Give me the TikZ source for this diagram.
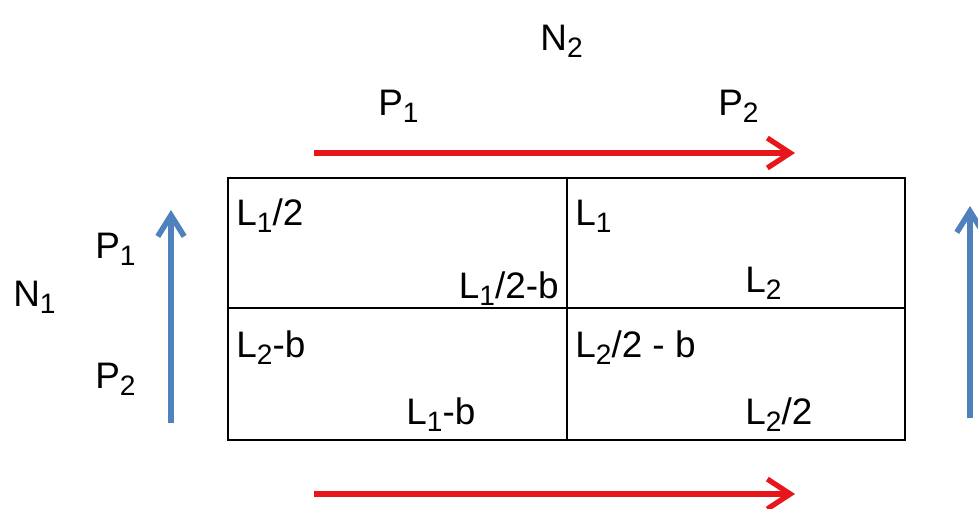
\documentclass[tikz,border=0pt]{standalone}
\usepackage{fontspec}
\setmainfont{Liberation Sans}
\usepackage{xcolor}
\usetikzlibrary{arrows.meta}
\definecolor{arrred}{RGB}{230,22,26}
\definecolor{arrblue}{RGB}{79,129,189}
\newcommand{\lo}[1]{\raisebox{-4.5pt}{\fontsize{16}{17}\selectfont #1}}

\begin{document}
\begin{tikzpicture}[x=0.02cm, y=-0.02cm,
    lbl/.style={anchor=base west, inner sep=0pt, font=\fontsize{21}{23}\selectfont},
    redarr/.style={arrred, line width=3pt, -{Straight Barb[length=13pt, width=17pt]}},
    bluearr/.style={arrblue, line width=3.2pt, -{Straight Barb[length=12pt, width=15pt]}}]

    \useasboundingbox (0, 0) rectangle (978, 508);

    % grid
    \draw[line width=0.9pt] (228, 178) rectangle (905, 440);
    \draw[line width=0.9pt] (567, 178) -- (567, 440);
    \draw[line width=0.9pt] (228, 308) -- (905, 308);

    % arrows
    \coordinate (topS) at (314, 153);
    \coordinate (topE) at (795, 153);
    \coordinate (botS) at (314, 494);
    \coordinate (botE) at (795, 494);
    \coordinate (leftS) at (171, 423);
    \coordinate (leftE) at (171, 210);
    \coordinate (rightS) at (970, 418);
    \coordinate (rightE) at (970, 206);
    \draw[redarr] (topS) -- (topE);
    \draw[redarr] (botS) -- (botE);
    \draw[bluearr] (leftS) -- (leftE);
    \draw[bluearr] (rightS) -- (rightE);

    % outer labels
    \node[lbl] (n2) at (540, 50) {N\lo{2}};
    \node[lbl] (p1top) at (378, 115) {P\lo{1}};
    \node[lbl] (p2top) at (718, 115) {P\lo{2}};
    \node[lbl] (n1) at (13, 306) {N\lo{1}};
    \node[lbl] (p1left) at (95, 258) {P\lo{1}};
    \node[lbl] (p2left) at (95, 388) {P\lo{2}};

    % cell labels
    \node[lbl] (c11a) at (236, 225) {L\lo{1}/2};
    \node[lbl, anchor=base east] (c11b) at (559, 298) {L\lo{1}/2-b};
    \node[lbl] (c12a) at (575, 225) {L\lo{1}};
    \node[lbl] (c12b) at (745, 292) {L\lo{2}};
    \node[lbl] (c21a) at (236, 357) {L\lo{2}-b};
    \node[lbl] (c21b) at (406, 424) {L\lo{1}-b};
    \node[lbl] (c22a) at (575, 357) {L\lo{2}/2 - b};
    \node[lbl] (c22b) at (745, 424) {L\lo{2}/2};

\end{tikzpicture}
\end{document}
